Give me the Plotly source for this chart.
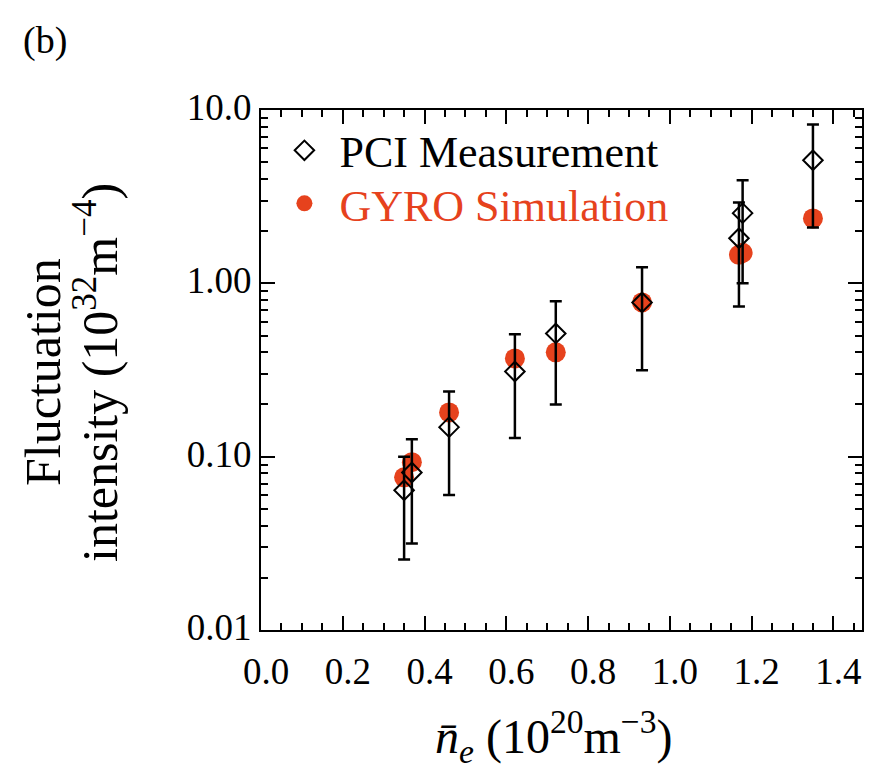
import plotly.graph_objects as go

# ---- data ----
ne_pci = [0.350, 0.369, 0.460, 0.621, 0.721, 0.932, 1.169, 1.178, 1.350]
pci_val = [0.064, 0.081, 0.148, 0.310, 0.514, 0.776, 1.82, 2.54, 5.13]
pci_hi = [0.100, 0.126, 0.238, 0.508, 0.787, 1.24, 2.93, 3.93, 8.26]
pci_lo = [0.0255, 0.0316, 0.060, 0.128, 0.200, 0.315, 0.736, 1.00, 2.10]

ne_gyro = [0.350, 0.369, 0.460, 0.621, 0.721, 0.932, 1.169, 1.178, 1.350]
gyro_val = [0.076, 0.093, 0.180, 0.369, 0.400, 0.776, 1.46, 1.50, 2.37]

xtick_vals = [0.0, 0.2, 0.4, 0.6, 0.8, 1.0, 1.2, 1.4]
xtick_text = ["0.0", "0.2", "0.4", "0.6", "0.8", "1.0", "1.2", "1.4"]
ytick_vals = [0.01, 0.1, 1.0, 10.0]
ytick_text = ["0.01", "0.10", "1.00", "10.0"]

RED = "#e6421d"
FONT = "Liberation Serif"

err_plus = [h - v for h, v in zip(pci_hi, pci_val)]
err_minus = [v - l for v, l in zip(pci_val, pci_lo)]

fig = go.Figure()
fig.add_trace(go.Scatter(
    x=ne_gyro, y=gyro_val, mode="markers", name="GYRO Simulation",
    marker=dict(symbol="circle", size=20, color=RED, line=dict(width=0)),
    legend="legend2",
))
fig.add_trace(go.Scatter(
    x=ne_pci, y=pci_val, mode="markers", name="PCI Measurement",
    marker=dict(symbol="diamond-open", size=15, color="black", line=dict(width=2, color="black")),
    error_y=dict(type="data", symmetric=False, array=err_plus, arrayminus=err_minus,
                 color="black", thickness=2.5, width=6),
    legend="legend",
))

minor_y = [m * 10 ** k for k in (-2, -1, 0) for m in range(2, 10)]

axis_common = dict(
    showline=True, linecolor="black", linewidth=2, mirror="ticks",
    ticks="inside", ticklen=14, tickwidth=2, tickcolor="black",
    showgrid=False, zeroline=False,
    tickfont=dict(family=FONT, size=37, color="black"),
)

fig.update_xaxes(range=[0, 1.47], tickmode="array", tickvals=xtick_vals, ticktext=xtick_text,
                 ticklabelstandoff=8, ticklabelshift=5,
                 minor=dict(dtick=0.05, tick0=0, ticks="inside", ticklen=7, tickwidth=2,
                            tickcolor="black", showgrid=False),
                 **axis_common)
fig.update_yaxes(type="log", range=[-2, 1], tickmode="array", tickvals=ytick_vals, ticktext=ytick_text,
                 ticklabelshift=-3,
                 minor=dict(tickmode="array", tickvals=minor_y, ticks="inside", ticklen=7, tickwidth=2,
                            tickcolor="black", showgrid=False),
                 **axis_common)

L, R, T, B = 261, 17, 110, 142
W, H = 879, 772
pw, ph = W - L - R, H - T - B

def px(xp):
    return (xp - L) / pw

def py(yp):
    return (H - B - yp) / ph

annotations = [
    dict(text="(b)", x=45, y=40),
    dict(text="Fluctuation", x=43, y=372, textangle=-90, size=50),
    dict(text="intensity (10<sup>32</sup>m<sup>−4</sup>)", x=96, y=373, textangle=-90, size=50),
    dict(text="<i>n̄</i><sub><i>e</i></sub> (10<sup>20</sup>m<sup>−3</sup>)", x=554, y=736, size=48),
]
ann = []
for a in annotations:
    ann.append(dict(
        text=a["text"], x=px(a["x"]), y=py(a["y"]), xref="paper", yref="paper",
        xanchor="center", yanchor="middle", showarrow=False,
        textangle=a.get("textangle", 0),
        font=dict(family=FONT, size=a.get("size", 38), color="black"),
    ))

fig.update_layout(
    width=W, height=H,
    margin=dict(l=L, r=R, t=T, b=B),
    paper_bgcolor="white", plot_bgcolor="white",
    annotations=ann,
    legend=dict(x=0.014, y=0.99, xanchor="left", yanchor="top",
                font=dict(family=FONT, size=44, color="black"),
                bgcolor="rgba(0,0,0,0)", itemwidth=60),
    legend2=dict(x=0.014, y=0.888, xanchor="left", yanchor="top",
                 font=dict(family=FONT, size=44, color=RED),
                 bgcolor="rgba(0,0,0,0)", itemwidth=60),
    showlegend=True,
)

fig.write_html("out.html")
